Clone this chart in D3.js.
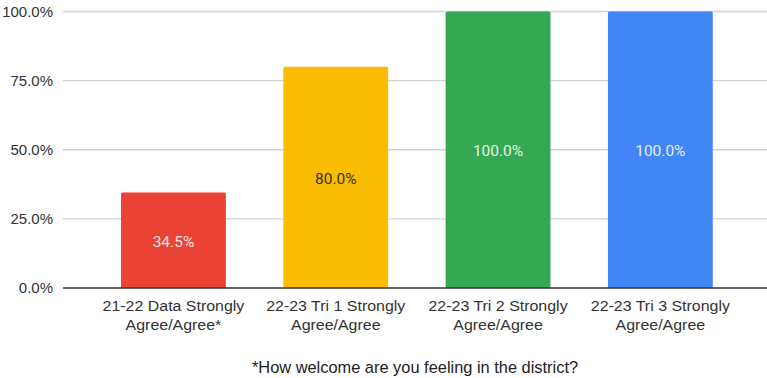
<!DOCTYPE html>
<html><head><meta charset="utf-8">
<script src="https://cdn.jsdelivr.net/npm/d3@7"></script>
<style>body{margin:0;background:#fff}svg{display:block}</style>
</head><body>
<script>
const categories = [
  ["21-22 Data Strongly", "Agree/Agree*"],
  ["22-23 Tri 1 Strongly", "Agree/Agree"],
  ["22-23 Tri 2 Strongly", "Agree/Agree"],
  ["22-23 Tri 3 Strongly", "Agree/Agree"]
];
const values = [34.5, 80.0, 100.0, 100.0];
const colors = ["#ea4335", "#fbbc04", "#34a853", "#4285f4"];
const labelColors = ["#fce8e6", "#3c2f00", "#e6f4ea", "#e8f0fe"];
const yTicks = [0, 25, 50, 75, 100];
const footnote = "*How welcome are you feeling in the district?";

const W = 767, H = 378;
const svg = d3.select("body").append("svg").attr("width", W).attr("height", H);
const x = d3.scaleBand().domain(d3.range(categories.length)).range([92.3, 741.5]).padding(0);
const y = d3.scaleLinear().domain([0, 100]).range([288, 11.5]);
const barW = x.bandwidth() * 0.646;

const axisFont = "Liberation Sans, Arial, sans-serif";

// y axis labels
const yAxis = d3.axisLeft(y).tickValues(yTicks).tickFormat(d => d.toFixed(1) + "%").tickSize(0).tickPadding(10);
const gy = svg.append("g").attr("transform", "translate(63,0)").call(yAxis);
gy.select(".domain").remove();
gy.selectAll("text").attr("font-family", axisFont).attr("font-size", 15).attr("fill", "#333");

// gridlines
svg.append("g").selectAll("line").data(yTicks.filter(d => d > 0)).join("line")
  .attr("x1", 63).attr("x2", W).attr("y1", d => y(d)).attr("y2", d => y(d))
  .attr("stroke", "#d3d3d3").attr("stroke-width", 1.3);

// bars
svg.append("g").selectAll("path").data(values).join("path")
  .attr("fill", (d, i) => colors[i])
  .attr("d", (d, i) => {
    const x0 = x(i) + (x.bandwidth() - barW) / 2, x1 = x0 + barW;
    const y0 = y(d), y1 = y(0), r = 1.5;
    return `M${x0},${y1}V${y0 + r}Q${x0},${y0} ${x0 + r},${y0}H${x1 - r}Q${x1},${y0} ${x1},${y0 + r}V${y1}Z`;
  });

// baseline
svg.append("line").attr("x1", 63).attr("x2", W).attr("y1", y(0)).attr("y2", y(0))
  .attr("stroke", "#333").attr("stroke-width", 1.6);

// value labels
svg.append("g").selectAll("text").data(values).join("text")
  .attr("x", (d, i) => x(i) + x.bandwidth() / 2)
  .attr("y", d => (y(d) + y(0)) / 2 + 6.5)
  .attr("text-anchor", "middle")
  .attr("font-family", "Roboto, sans-serif").attr("font-size", 15.5)
  .attr("fill", (d, i) => labelColors[i])
  .text(d => d.toFixed(1) + "%");

// x labels
const xl = svg.append("g").selectAll("g").data(categories).join("g")
  .attr("transform", (d, i) => `translate(${x(i) + x.bandwidth() / 2},0) scale(1.1,1)`);
xl.each(function(lines) {
  d3.select(this).selectAll("text").data(lines).join("text")
    .attr("x", 0)
    .attr("y", (l, j) => 311.5 + j * 18.5)
    .attr("text-anchor", "middle")
    .attr("font-family", axisFont).attr("font-size", 14.5).attr("fill", "#333")
    .text(l => l);
});

svg.append("text").attr("x", 415).attr("y", 372.5).attr("text-anchor", "middle")
  .attr("font-family", axisFont).attr("font-size", 16.4).attr("fill", "#222")
  .text(footnote);
</script>
</body></html>
